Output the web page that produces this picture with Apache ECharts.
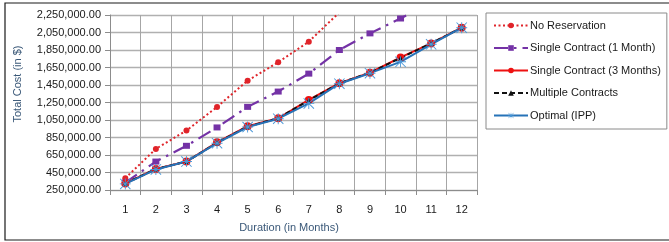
<!DOCTYPE html>
<html>
<head>
<meta charset="utf-8">
<script src="https://cdn.jsdelivr.net/npm/echarts@6/dist/echarts.min.js"></script>
<style>
  html, body { margin: 0; padding: 0; background: #fff; }
  #chart { width: 669px; height: 242px; }
</style>
</head>
<body>
<div id="chart"></div>
<script>
var months = ['1', '2', '3', '4', '5', '6', '7', '8', '9', '10', '11', '12'];
var yTicks = { min: 250000, max: 2250000, step: 200000 };

// values (beyond 2,250,000 they are clipped by the plot)
var noReservation = [385000, 720000, 930000, 1200000, 1500000, 1710000, 1945000, 2280000, 2520000, 2760000, 3000000, 3240000];
var singleOneMonth = [335000, 575000, 755000, 965000, 1200000, 1375000, 1580000, 1850000, 2040000, 2210000, 2400000, 2600000];
var singleThreeMonths = [325000, 490000, 575000, 795000, 980000, 1070000, 1280000, 1470000, 1590000, 1765000, 1925000, 2105000];
var multipleContracts = [325000, 490000, 575000, 790000, 975000, 1070000, 1275000, 1470000, 1590000, 1760000, 1925000, 2105000];
var optimalIPP = [320000, 485000, 575000, 785000, 970000, 1065000, 1240000, 1465000, 1585000, 1715000, 1915000, 2105000];

var FONT = 'Liberation Sans';

function money(v) {
    var s = Math.round(v).toString().replace(/(\d)(?=(\d{3})+$)/g, '$1,');
    return s + '.00';
}

// asterisk marker, like the spreadsheet one
var star = 'path://M4.6 0 H5.4 V10 H4.6 Z M0 4.6 H10 V5.4 H0 Z ' +
    'M0.6 0 L10 9.4 L9.4 10 L0 0.6 Z M9.4 0 L10 0.6 L0.6 10 L0 9.4 Z';

var myChart = echarts.init(document.getElementById('chart'));

var option = {
    animation: false,
    backgroundColor: '#fff',
    textStyle: { fontFamily: FONT },
    grid: { left: 110, right: 192, top: 15, bottom: 52, containLabel: false },
    graphic: [
        {
            type: 'rect', z: -1,
            shape: { x: 5, y: 3, width: 690, height: 237 },
            style: { fill: 'none', stroke: '#1a1a1a', lineWidth: 1.2 }
        },
        {
            type: 'text', x: 18, y: 84, rotation: Math.PI / 2,
            style: {
                text: 'Total Cost (in $)', fill: '#3a5878',
                font: '11px "Liberation Sans"', align: 'center', verticalAlign: 'middle'
            }
        },
        {
            type: 'text', x: 289, y: 228,
            style: {
                text: 'Duration (in Months)', fill: '#3a5878',
                font: '11px "Liberation Sans"', align: 'center', verticalAlign: 'middle'
            }
        }
    ],
    legend: {
        orient: 'vertical',
        left: 486, top: 13,
        width: 168,
        padding: [7, 6, 8, 7],
        itemGap: 11.5,
        itemWidth: 34, itemHeight: 7,
        backgroundColor: '#fff',
        borderColor: '#8a8a8a', borderWidth: 1,
        textStyle: { fontFamily: FONT, fontSize: 11, color: '#1a1a1a', padding: [0, 0, 0, -3] },
        data: ['No Reservation', 'Single Contract (1 Month)', 'Single Contract (3 Months)',
            'Multiple Contracts', 'Optimal (IPP)']
    },
    xAxis: {
        type: 'category',
        data: months,
        boundaryGap: true,
        axisLine: { lineStyle: { color: '#8c8c8c' } },
        axisTick: { show: true, length: 5, lineStyle: { color: '#8c8c8c' } },
        axisLabel: { color: '#1a1a1a', fontSize: 11, margin: 14 },
        splitLine: { show: true, lineStyle: { color: '#a6a6a6' } }
    },
    yAxis: {
        type: 'value',
        min: yTicks.min, max: yTicks.max, interval: yTicks.step,
        axisLine: { show: true, lineStyle: { color: '#8c8c8c' } },
        axisTick: { show: true, length: 5, lineStyle: { color: '#8c8c8c' } },
        axisLabel: { color: '#1a1a1a', fontSize: 11, margin: 9, formatter: money },
        splitLine: { show: true, lineStyle: { color: '#b0b0b0', width: 1.3 } }
    },
    series: [
        {
            name: 'No Reservation', type: 'line', data: noReservation,
            symbol: 'circle', symbolSize: 6,
            itemStyle: { color: '#e0242a' },
            lineStyle: { color: '#e0242a', width: 2, type: [2, 2.5] }
        },
        {
            name: 'Single Contract (1 Month)', type: 'line', data: singleOneMonth,
            symbol: 'rect', symbolSize: [7, 6],
            itemStyle: { color: '#7432a6' },
            lineStyle: { color: '#7432a6', width: 2.2, type: [14, 6, 2.5, 6] }
        },
        {
            name: 'Single Contract (3 Months)', type: 'line', data: singleThreeMonths,
            symbol: 'circle', symbolSize: 8,
            itemStyle: { color: '#ee1111' },
            lineStyle: { color: '#ee1111', width: 2 }
        },
        {
            name: 'Multiple Contracts', type: 'line', data: multipleContracts,
            symbol: 'triangle', symbolSize: 5,
            itemStyle: { color: '#111' },
            lineStyle: { color: '#111', width: 2, type: [5, 3] }
        },
        {
            name: 'Optimal (IPP)', type: 'line', data: optimalIPP,
            symbol: star, symbolSize: 11,
            itemStyle: { color: '#4a98d8' },
            lineStyle: { color: '#2673b8', width: 2 }
        }
    ]
};

myChart.setOption(option);
</script>
</body>
</html>
